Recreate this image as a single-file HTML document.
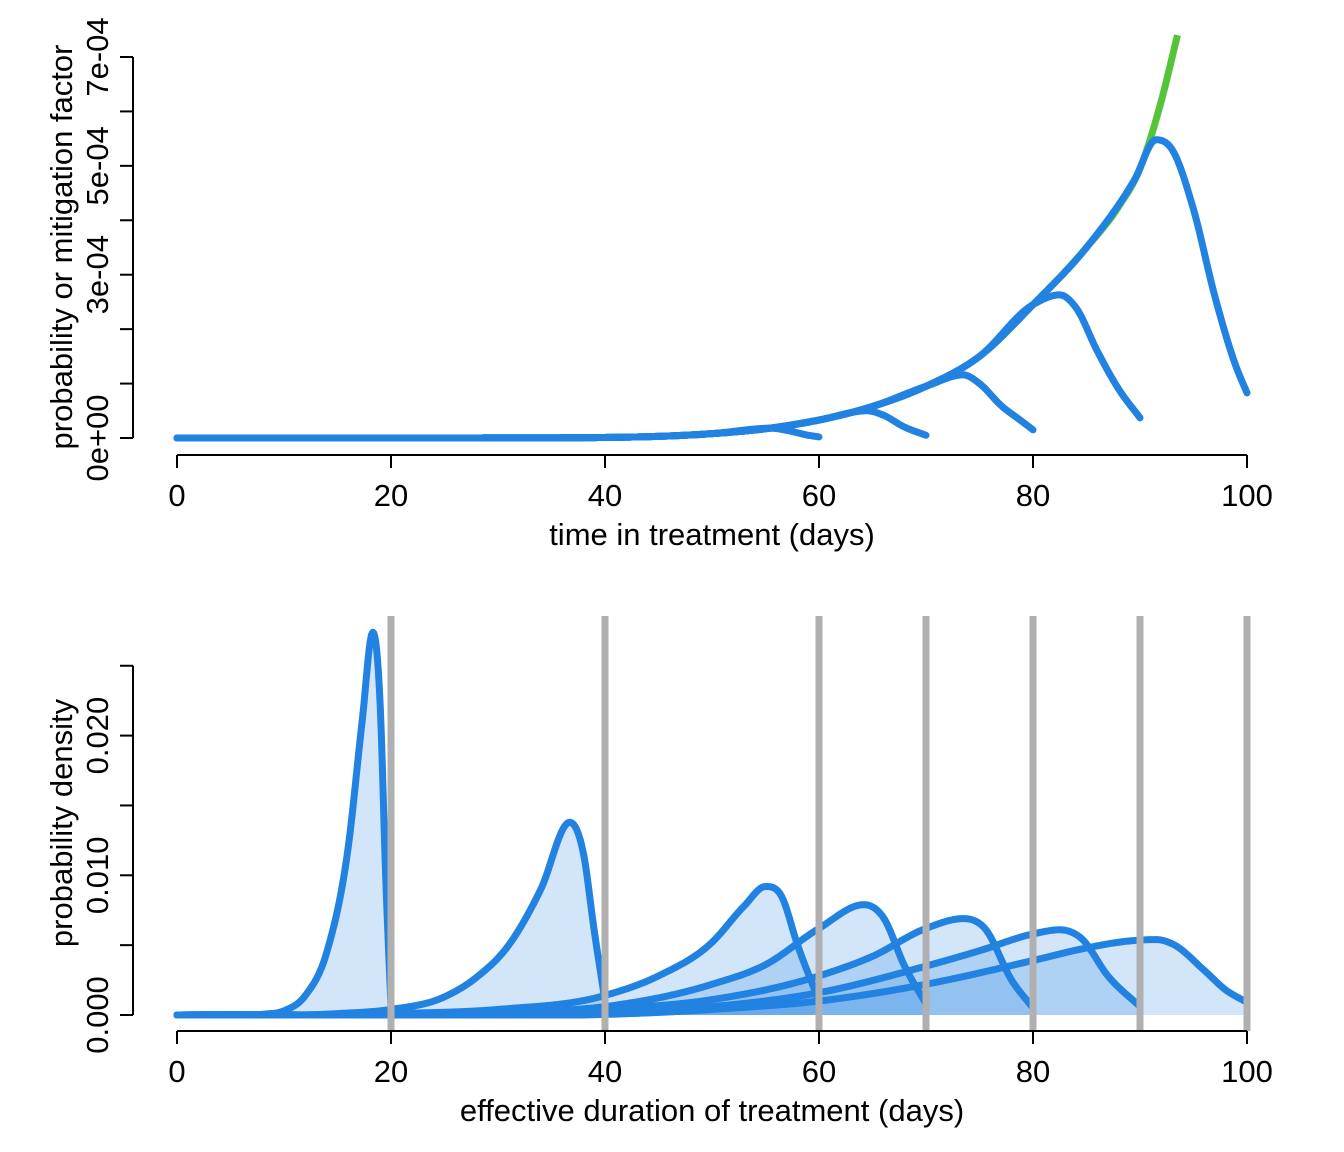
<!DOCTYPE html>
<html><head><meta charset="utf-8">
<style>
html,body{margin:0;padding:0;background:#fff;}
svg{display:block;font-family:"Liberation Sans",Arial,sans-serif;}
</style></head>
<body>
<svg id="chart" width="1344" height="1152" viewBox="0 0 1344 1152">
  <g id="topPanel"></g>
  <g id="botPanel"></g>
</svg>
<script>
// ---- data: top panel (values in units of 1e-4) ----
const hazardCurve = [[0,0],[30,0.002],[40,0.01],[45,0.03],[50,0.08],[55,0.17],[60,0.33],[65,0.58],[70,0.95],[75,1.5],[80,2.45],[85,3.5],[88,4.25],[90,4.95],[92,6.2],[93.5,7.4]];
const cutoffs = [60,70,80,90,100];
const mitigatedTails = [
  [[55.5,0.18],[57,0.14],[59,0.05],[60,0.02]],
  [[64.5,0.5],[66,0.42],[68,0.2],[70,0.05]],
  [[73.5,1.16],[75,1.0],[77,0.6],[79,0.3],[80,0.15]],
  [[82.5,2.63],[84,2.4],[86,1.6],[88,0.9],[90,0.37]],
  [[89.5,4.75],[91.5,5.48],[93,5.3],[95,4.2],[97,2.6],[99,1.3],[100,0.83]]
];
const tailStart = [53,62,71,80.5,87];
const topYTicks = [0,1,2,3,4,5,6,7];
const topYLabels = {0:"0e+00",3:"3e-04",5:"5e-04",7:"7e-04"};
const xTicks = [0,20,40,60,80,100];
// ---- data: bottom panel (values in units of 1e-3) ----
const densities = [
  [[0,0],[8,0.05],[10,0.3],[12,1.4],[14,4.5],[16,12],[17.3,21],[18.3,27.4],[19,22],[19.5,10],[20,0.5]],
  [[0,0],[15,0.1],[20,0.4],[25,1.3],[28,2.7],[31,5],[34,9],[36.7,13.8],[38,11.5],[39,6],[40,1]],
  [[0,0],[20,0.1],[30,0.4],[40,1.4],[45,2.8],[50,5.2],[53,7.8],[55,9.2],[56.5,8.5],[58,5],[60,1]],
  [[0,0],[30,0.2],[40,0.6],[50,2.2],[55,3.6],[60,6.2],[64.2,7.9],[66,7],[68,3.5],[70,0.8]],
  [[0,0],[40,0.4],[50,1.1],[60,2.8],[65,4.2],[70,6.2],[73.5,6.9],[75.5,6.2],[78,2.5],[80,0.5]],
  [[0,0],[40,0.2],[50,0.6],[60,1.6],[70,3.5],[75,4.6],[80,5.8],[82.5,6.1],[84.5,5.5],[87,2.8],[90,0.6]],
  [[0,0],[50,0.4],[60,1.0],[70,2.2],[80,3.9],[85,4.8],[89,5.3],[91.5,5.4],[93,5.1],[96,3.2],[98,1.8],[100,0.9]]
];
const durations = [20,40,60,70,80,90,100];
const botYTicks = [0,5,10,15,20,25];
const botYLabels = {0:"0.000",10:"0.010",20:"0.020"};

const NS="http://www.w3.org/2000/svg";
const X = t => 177 + t*10.7;
const Ytop = v => 438 - v*54.43;
const Ybot = v => 1015 - v*13.97;
const BLUE="#2182e2", GREEN="#55c43a", GRAY="#b0b0b0";
const FS=31;

function mk(parent, tag, attrs, name, text){
  const e=document.createElementNS(NS,tag);
  for(const k in attrs) e.setAttribute(k,attrs[k]);
  
  
  if(text!==undefined) e.textContent=text;
  parent.appendChild(e); return e;
}
function interp(pts){
  const n=pts.length, xs=pts.map(p=>p[0]), ys=pts.map(p=>p[1]);
  const d=[], h=[], m=new Array(n);
  for(let i=0;i<n-1;i++){ h.push(xs[i+1]-xs[i]); d.push((ys[i+1]-ys[i])/h[i]); }
  m[0]=d[0]; m[n-1]=d[n-2];
  for(let i=1;i<n-1;i++){
    m[i]=(d[i-1]*d[i]<=0)?0:(d[i-1]*h[i]+d[i]*h[i-1])/(h[i-1]+h[i]);
  }
  const out=[];
  for(let i=0;i<n-1;i++){
    const hh=h[i], steps=Math.max(8,Math.ceil(hh*6));
    for(let k=0;k<steps;k++){
      const t=k/steps, t2=t*t, t3=t2*t;
      const y=(2*t3-3*t2+1)*ys[i]+(t3-2*t2+t)*hh*m[i]+(-2*t3+3*t2)*ys[i+1]+(t3-t2)*hh*m[i+1];
      out.push([xs[i]+t*hh, Math.max(0,y)]);
    }
  }
  out.push([xs[n-1],ys[n-1]]);
  return out;
}
function pathD(pts, Y){ return pts.map((p,i)=>(i?'L':'M')+X(p[0]).toFixed(2)+','+Y(p[1]).toFixed(2)).join(''); }

function xAxis(g, yLine, labelY, title, titleY){
  mk(g,'line',{x1:X(0),x2:X(100),y1:yLine,y2:yLine,stroke:'#000','stroke-width':2},'x-axis-line');
  xTicks.forEach(t=>{
    mk(g,'line',{x1:X(t),x2:X(t),y1:yLine,y2:yLine+13,stroke:'#000','stroke-width':2},'x-tick');
    mk(g,'text',{x:X(t),y:labelY,'font-size':FS,'text-anchor':'middle'},'x-tick-label',String(t));
  });
  mk(g,'text',{x:X(50),y:titleY,'font-size':FS,'text-anchor':'middle'},'x-axis-title',title);
}
function yAxis(g, ticks, Y, labels, title, titleY){
  mk(g,'line',{x1:133,x2:133,y1:Y(ticks[ticks.length-1]),y2:Y(ticks[0]),stroke:'#000','stroke-width':2},'y-axis-line');
  ticks.forEach(v=>{
    mk(g,'line',{x1:120,x2:133,y1:Y(v),y2:Y(v),stroke:'#000','stroke-width':2},'y-tick');
    if(labels[v]!==undefined) mk(g,'text',{x:0,y:0,'font-size':FS,'text-anchor':'middle',transform:`translate(108,${Y(v)}) rotate(-90)`},'y-tick-label',labels[v]);
  });
  mk(g,'text',{x:0,y:0,'font-size':FS,'text-anchor':'middle',transform:`translate(72,${titleY}) rotate(-90)`},'y-axis-title',title);
}

// ---- top panel ----
const topG=document.getElementById('topPanel');
mk(topG,'path',{d:pathD(interp(hazardCurve),Ytop),fill:'none',stroke:GREEN,'stroke-width':7,'stroke-linecap':'butt'},'hazard-curve');
for(let i=cutoffs.length-1;i>=0;i--){
  const pts=hazardCurve.filter(p=>p[0]<tailStart[i]).concat(mitigatedTails[i]);
  mk(topG,'path',{d:pathD(interp(pts),Ytop),fill:'none',stroke:BLUE,'stroke-width':7,'stroke-linecap':'round','stroke-linejoin':'round'},'mitigated-curve-'+cutoffs[i]);
}
yAxis(topG, topYTicks, Ytop, topYLabels, 'probability or mitigation factor', 247);
xAxis(topG, 455, 506, 'time in treatment (days)', 545);

// ---- bottom panel ----
const botG=document.getElementById('botPanel');
densities.forEach((d,i)=>{
  const pts=interp(d);
  const dd=pathD(pts,Ybot)+`L${X(durations[i])},${Ybot(0)}L${X(0)},${Ybot(0)}Z`;
  mk(botG,'path',{d:dd,fill:'rgba(33,130,226,0.2)',stroke:'none'},'density-fill-'+durations[i]);
});
densities.forEach((d,i)=>{
  const pts=interp(d);
  mk(botG,'path',{d:pathD(pts,Ybot),fill:'none',stroke:BLUE,'stroke-width':7,'stroke-linecap':'round','stroke-linejoin':'round'},'density-curve-'+durations[i]);
});
durations.forEach(t=>{
  mk(botG,'line',{x1:X(t),x2:X(t),y1:616,y2:1031,stroke:GRAY,'stroke-width':7},'duration-line-'+t);
});
yAxis(botG, botYTicks, Ybot, botYLabels, 'probability density', 823);
xAxis(botG, 1031, 1082, 'effective duration of treatment (days)', 1121);
</script>
</body></html>
